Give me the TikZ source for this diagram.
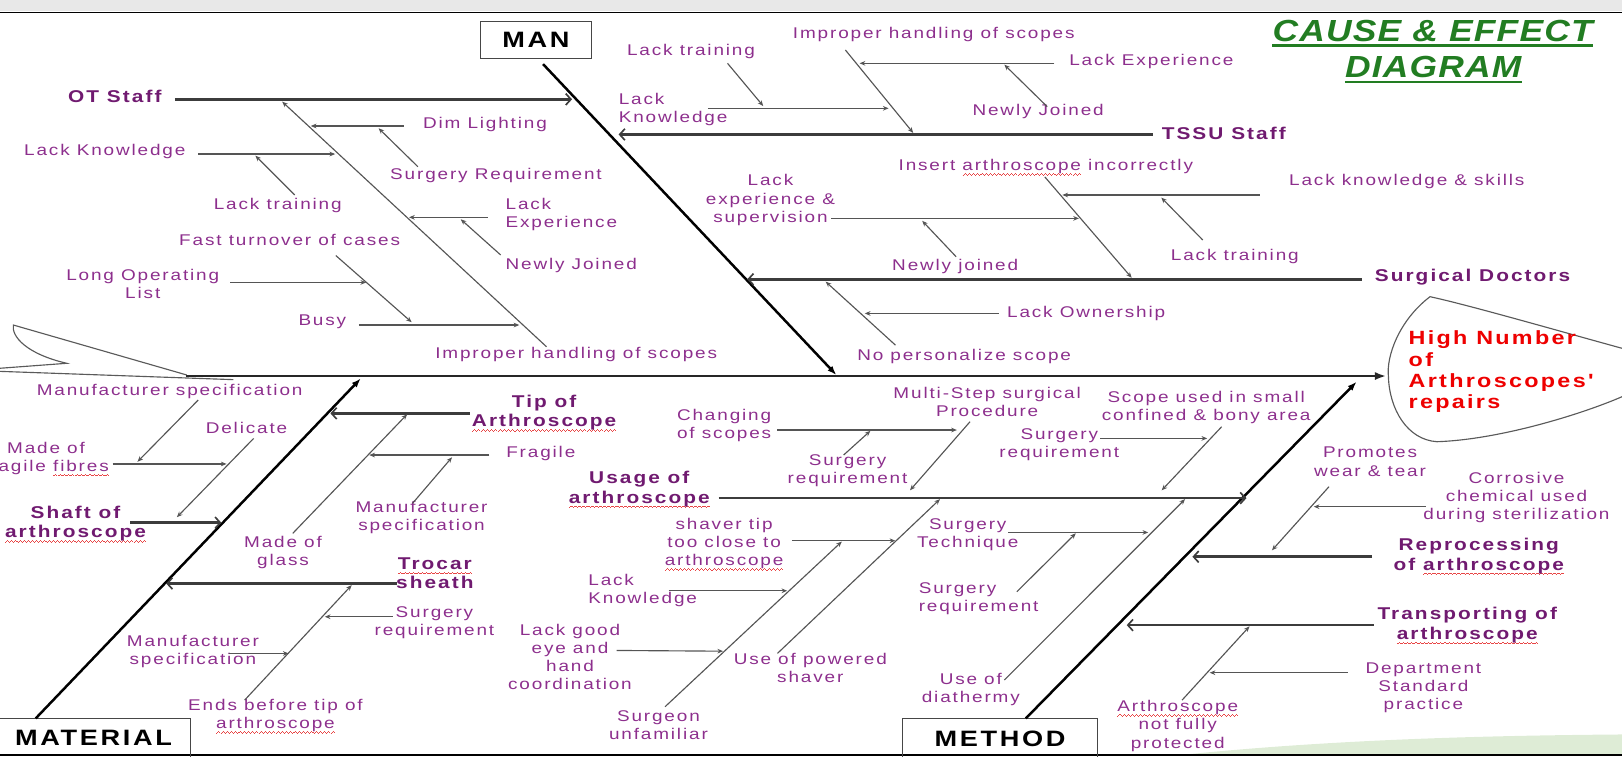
\documentclass[tikz,border=0pt]{standalone}
\usepackage{fontspec}
\usetikzlibrary{arrows.meta}
\setmainfont{Liberation Sans}
\newfontfamily\lblfam[FakeStretch=1.22,LetterSpace=12]{Liberation Sans}
\newfontfamily\ttlfam[FakeStretch=1.16,LetterSpace=4]{Liberation Sans}
\definecolor{lblc}{RGB}{141,47,141}
\definecolor{catc}{RGB}{112,26,112}
\definecolor{linec}{RGB}{85,85,85}
\definecolor{catline}{RGB}{60,60,60}
\definecolor{boxc}{RGB}{70,70,70}
\definecolor{ttlc}{RGB}{34,125,34}
\definecolor{effc}{RGB}{238,0,0}
\definecolor{sqc}{RGB}{232,70,70}
\definecolor{bandc}{RGB}{232,232,232}
\definecolor{swoosh}{RGB}{222,236,214}
\definecolor{tailc}{RGB}{90,90,90}
\newcommand\sqpiece{\rule[-4.6pt]{1pt}{0.7pt}\rule[-3.9pt]{1pt}{0.7pt}\rule[-3.2pt]{1pt}{0.7pt}\rule[-3.9pt]{1pt}{0.7pt}}
\newcommand\sqw[1]{\setbox0\hbox{#1}\rlap{\smash{\textcolor{sqc}{\hbox to \wd0{\xleaders\hbox{\sqpiece}\hfill}}}}\box0\relax}
\tikzset{
  lbl/.style={inner sep=0pt, align=center, text=lblc, font=\lblfam\fontsize{15}{17.5}\selectfont},
  catlbl/.style={inner sep=0pt, align=center, text=catc, font=\lblfam\bfseries\fontsize{16.5}{18.8}\selectfont},
  boxlbl/.style={draw=boxc, line width=1.3pt, inner sep=0pt, text=black, font=\lblfam\bfseries\fontsize{21.5}{24}\selectfont},
  sub/.style={draw=linec, line width=1.1pt, -{Stealth[length=5.5pt,width=4.5pt]}},
  catarrow/.style={draw=catline, line width=2.6pt, -{Straight Barb[length=5pt,width=11pt,line width=1.6pt]}},
  bone/.style={draw=black, line width=2.4pt, -{Latex[length=9pt,width=6.5pt]}},
  spine/.style={draw=black!85, line width=2.2pt, -{Latex[length=11pt,width=8pt]}},
  outline/.style={draw=tailc, line width=1.1pt},
  ttl/.style={inner sep=0pt, text=ttlc, font=\ttlfam\bfseries\itshape\fontsize{29.5}{32}\selectfont},
  ttlline/.style={draw=ttlc, line width=2pt},
}
\begin{document}
\begin{tikzpicture}[x=1pt,y=-1pt]
\useasboundingbox (0,0) rectangle (1568,731);
\clip (0,0) rectangle (1568,731);
% frame of the slide
\fill[bandc] (0,0) rectangle (1568,10.6);
\draw[black, line width=1.6pt] (0,12) -- (1568,12);
\fill[swoosh] (1150,729) .. controls (1300,714) and (1450,711) .. (1568,710) -- (1568,729) -- cycle;
\draw[black, line width=1.6pt] (0,729.6) -- (1568,729.6);

% title
\node[ttl, anchor=base] (t1) at (1385,40) {CAUSE \& EFFECT};
\node[ttl, anchor=base] (t2) at (1385.5,75.2) {DIAGRAM};
\draw[ttlline] ([yshift=-4pt]t1.base west) -- ([yshift=-4pt]t1.base east);
\draw[ttlline] ([yshift=-4.3pt]t2.base west) -- ([yshift=-4.3pt]t2.base east);

% fish tail
\draw[outline] (180.5,362.5) -- (12.9,314.2) .. controls (11,325) and (25,342) .. (64.5,351.2) -- (0,356);
\draw[outline] (0,359) -- (225.6,367);

% head
\draw[outline] (1568,336.7) .. controls (1500,318) and (1420,295) .. (1382.4,286.8)
  .. controls (1352,310) and (1340,345) .. (1342.2,364)
  .. controls (1343,395) and (1360,425) .. (1389,427)
  .. controls (1450,425) and (1530,400) .. (1568,383.5);
\node[anchor=west, align=left, inner sep=0pt, text=effc, font=\lblfam\bfseries\fontsize{18.5}{20.5}\selectfont] (effect) at (1361.6,359.4) {High Number\\of\\Arthroscopes'\\repairs};

% spine
\coordinate (spS) at (180,363.5);
\coordinate (spE) at (1340,363.5);
\draw[spine] (spS) -- (spE);

% category boxes
\node[boxlbl, minimum width=107.6pt, minimum height=35.4pt] (man) at (518.2,38.7) {MAN};
\node[boxlbl, minimum width=187pt, minimum height=38pt] (material) at (90.5,713.5) {MATERIAL};
\node[boxlbl, minimum width=188pt, minimum height=38.6pt] (method) at (966.7,713.8) {METHOD};

% main bones
\coordinate (manS) at (525,62);
\coordinate (manE) at (808.6,362.6);
\coordinate (matS) at (34.5,694.5);
\coordinate (matE) at (348.8,365.8);
\coordinate (metS) at (991.6,694.5);
\coordinate (metE) at (1311.5,369);
\draw[bone] (manS) -- (manE);
\draw[bone] (matS) -- (matE);
\draw[bone] (metS) -- (metE);

% ===== MAN : OT Staff =====
\node[catlbl] (ot) at (111,93.5) {OT Staff};
\node[lbl] (dim) at (468.8,120) {Dim Lighting};
\node[lbl] (sreqA) at (479.5,169.2) {Surgery Requirement};
\node[lbl] (lkA) at (101.3,146.6) {Lack Knowledge};
\node[lbl] (ltA) at (268.5,199) {Lack training};
\node[lbl, anchor=west, align=left] (leA) at (488.6,207) {Lack\\Experience};
\node[lbl, anchor=west] (njA) at (488.6,256.5) {Newly Joined};
\node[lbl] (ftc) at (280,232) {Fast turnover of cases};
\node[lbl] (lol) at (138,274.5) {Long Operating\\List};
\node[lbl] (busy) at (311.6,311) {Busy};
\node[lbl] (ihA) at (557,342.3) {Improper handling of scopes};

\coordinate (otS) at (169,96);       \coordinate (otE) at (553,96);
\coordinate (ihAs) at (528.3,335.2); \coordinate (ihAe) at (272.8,98.3);
\coordinate (dimS) at (390.2,121.8); \coordinate (dimE) at (300.4,121.8);
\coordinate (sqAs) at (404,161.2);   \coordinate (sqAe) at (366,124);
\coordinate (lkAs) at (191.6,148.9); \coordinate (lkAe) at (324,148.9);
\coordinate (ltAs) at (284.9,188.5); \coordinate (ltAe) at (246.9,150.5);
\coordinate (leAs) at (471.3,210.1); \coordinate (leAe) at (395.4,210.1);
\coordinate (njAs) at (484,246.5);   \coordinate (njAe) at (445.4,212);
\coordinate (ftcS) at (324.6,247);   \coordinate (ftcE) at (398,311.5);
\coordinate (lolS) at (222.7,273);   \coordinate (lolE) at (354,273);
\coordinate (busS) at (347,314.2);   \coordinate (busE) at (502,314.2);
\draw[catarrow] (otS) -- (otE);
\draw[sub] (ihAs) -- (ihAe);
\draw[sub] (dimS) -- (dimE);
\draw[sub] (sqAs) -- (sqAe);
\draw[sub] (lkAs) -- (lkAe);
\draw[sub] (ltAs) -- (ltAe);
\draw[sub] (leAs) -- (leAe);
\draw[sub] (njAs) -- (njAe);
\draw[sub] (ftcS) -- (ftcE);
\draw[sub] (lolS) -- (lolE);
\draw[sub] (busS) -- (busE);

% ===== MAN : TSSU Staff =====
\node[catlbl] (tssu) at (1183,129) {TSSU Staff};
\node[lbl] (ihB) at (902.7,33.8) {Improper handling of scopes};
\node[lbl] (leB) at (1113,59) {Lack Experience};
\node[lbl] (njB) at (1003.6,108) {Newly Joined};
\node[lbl] (ltB) at (668,50) {Lack training};
\node[lbl, anchor=west, align=left] (lkB) at (598,105.5) {Lack\\Knowledge};

\coordinate (tsS) at (1114.3,130);   \coordinate (tsE) at (598,130);
\coordinate (ihBs) at (817.2,48.3);  \coordinate (ihBe) at (882.8,128.5);
\coordinate (leBs) at (1019.2,61.2); \coordinate (leBe) at (831,61.2);
\coordinate (njBs) at (1012.3,103.1);\coordinate (njBe) at (970.9,62.5);
\coordinate (ltBs) at (703.3,61.2);  \coordinate (ltBe) at (737.8,102.5);
\coordinate (lkBs) at (684.3,104.7); \coordinate (lkBe) at (859,104.7);
\draw[catarrow] (tsS) -- (tsE);
\draw[sub] (ihBs) -- (ihBe);
\draw[sub] (leBs) -- (leBe);
\draw[sub] (njBs) -- (njBe);
\draw[sub] (ltBs) -- (ltBe);
\draw[sub] (lkBs) -- (lkBe);

% ===== MAN : Surgical Doctors =====
\node[catlbl] (sd) at (1423.5,267.5) {Surgical Doctors};
\node[lbl] (ins) at (1011,161.2) {Insert \sqw{arthroscope} incorrectly};
\node[lbl] (lks) at (1360,175.7) {Lack knowledge \& skills};
\node[lbl] (ltC) at (1193.7,248) {Lack training};
\node[lbl] (les) at (744.8,193.4) {Lack\\experience \&\\supervision};
\node[lbl] (njC) at (923.4,257.2) {Newly joined};
\node[lbl] (lo) at (1050,303) {Lack Ownership};
\node[lbl] (nps) at (932,344.2) {No personalize scope};

\coordinate (sdS) at (1316.5,270);   \coordinate (sdE) at (722.3,270);
\coordinate (insS) at (1010,171);    \coordinate (insE) at (1094,268.5);
\coordinate (lksS) at (1218,188.5);  \coordinate (lksE) at (1027,188.5);
\coordinate (ltCs) at (1162.7,232);  \coordinate (ltCe) at (1122.6,191);
\coordinate (lesS) at (803.4,211.1); \coordinate (lesE) at (1043,211.1);
\coordinate (njCs) at (924.3,248.2); \coordinate (njCe) at (891.5,213.5);
\coordinate (npsS) at (865.6,333.6); \coordinate (npsE) at (798.2,272.3);
\coordinate (loS) at (965.7,303);    \coordinate (loE) at (836,303);
\draw[catarrow] (sdS) -- (sdE);
\draw[sub] (insS) -- (insE);
\draw[sub] (lksS) -- (lksE);
\draw[sub] (ltCs) -- (ltCe);
\draw[sub] (lesS) -- (lesE);
\draw[sub] (njCs) -- (njCe);
\draw[sub] (npsS) -- (npsE);
\draw[sub] (loS) -- (loE);

% ===== MATERIAL =====
\node[catlbl] (tip) at (526,399) {Tip of\\\sqw{Arthroscope}};
\node[lbl] (fragile) at (522.8,438.3) {Fragile};
\node[lbl] (msA) at (407.5,500.3) {Manufacturer\\specification};
\node[lbl] (mog) at (273.6,534.2) {Made of\\glass};
\node[catlbl] (shaft) at (73,506) {Shaft of\\\sqw{arthroscope}};
\node[lbl] (msB) at (164,378.7) {Manufacturer specification};
\node[lbl] (delicate) at (238.3,413.5) {Delicate};
\node[lbl] (mff) at (44.5,443.1) {Made of\\fragile \sqw{fibres}};
\node[catlbl] (trocar) at (420.4,554.3) {\sqw{Trocar}\\sheath};
\node[lbl] (sreqB) at (420,602.3) {Surgery\\requirement};
\node[lbl] (msC) at (186.5,630.2) {Manufacturer\\specification};
\node[lbl] (ebt) at (266.3,691.6) {Ends before tip of\\\sqw{arthroscope}};

\coordinate (tipS) at (454,399.6);   \coordinate (tipE) at (319.4,399.6);
\coordinate (tdS) at (283,515.6);    \coordinate (tdE) at (393.6,400.5);
\coordinate (frS) at (473,439.9);    \coordinate (frE) at (357,439.9);
\coordinate (msAs) at (398.8,486.6); \coordinate (msAe) at (437,442);
\coordinate (shS) at (126,505.3);    \coordinate (shE) at (214,505.3);
\coordinate (msBs) at (191.6,386.7); \coordinate (msBe) at (132.9,446.4);
\coordinate (delS) at (245.2,423.8); \coordinate (delE) at (171,500);
\coordinate (mffS) at (108.8,448.5); \coordinate (mffE) at (219,448.5);
\coordinate (trS) at (383.3,564);    \coordinate (trE) at (160.6,564);
\coordinate (trdS) at (236.5,676.8); \coordinate (trdE) at (340,565.6);
\coordinate (sqBs) at (379.8,596.2); \coordinate (sqBe) at (314,596.2);
\coordinate (msCs) at (221,631.7);   \coordinate (msCe) at (279,631.7);
\draw[catarrow] (tipS) -- (tipE);
\draw[sub] (tdS) -- (tdE);
\draw[sub] (frS) -- (frE);
\draw[sub] (msAs) -- (msAe);
\draw[catarrow] (shS) -- (shE);
\draw[sub] (msBs) -- (msBe);
\draw[sub] (delS) -- (delE);
\draw[sub] (mffS) -- (mffE);
\draw[catarrow] (trS) -- (trE);
\draw[sub] (trdS) -- (trdE);
\draw[sub] (sqBs) -- (sqBe);
\draw[sub] (msCs) -- (msCe);

% ===== METHOD =====
\node[catlbl] (usage) at (618,472.6) {Usage of\\\sqw{arthroscope}};
\node[lbl] (msp) at (954.3,388.5) {Multi-Step surgical\\Procedure};
\node[lbl] (cos) at (700,411) {Changing\\of scopes};
\node[lbl] (sreqC) at (819.3,455.2) {Surgery\\requirement};
\node[lbl] (scope) at (1166,394) {Scope used in small\\confined \& bony area};
\node[lbl] (sreqD) at (1024,430.2) {Surgery\\requirement};
\node[lbl] (shaver) at (700,525.6) {shaver tip\\too close to\\\sqw{arthroscope}};
\node[lbl, anchor=west, align=left] (lkC) at (568.6,571.2) {Lack\\Knowledge};
\node[lbl] (lge) at (551,634.8) {Lack good\\eye and\\hand\\coordination};
\node[lbl] (upw) at (783.3,645.3) {Use of powered\\shaver};
\node[lbl] (su) at (636.5,701) {Surgeon\\unfamiliar};
\node[lbl] (st) at (935.5,516.5) {Surgery\\Technique};
\node[lbl, anchor=west, align=left] (sreqE) at (888,578.8) {Surgery\\requirement};
\node[lbl] (uod) at (938.5,666.3) {Use of\\diathermy};
\node[catlbl] (rep) at (1429.5,537.4) {Reprocessing\\of \sqw{arthroscope}};
\node[lbl] (pwt) at (1324.4,446.4) {Promotes\\wear \& tear};
\node[lbl] (corr) at (1466,481) {Corrosive\\chemical used\\during sterilization};
\node[catlbl] (trans) at (1418.4,604.3) {Transporting of\\\sqw{arthroscope}};
\node[lbl] (dsp) at (1376,664.6) {Department\\Standard\\practice};
\node[lbl] (anfp) at (1138.5,701.8) {\sqw{Arthroscope}\\not fully\\protected};

\coordinate (usS) at (694.7,481.5);  \coordinate (usE) at (1205,481.5);
\coordinate (mspS) at (937.7,407.7); \coordinate (mspE) at (879.7,474);
\coordinate (cosS) at (751.6,415.7); \coordinate (cosE) at (925,415.7);
\coordinate (sqCs) at (815.5,439.9); \coordinate (sqCe) at (841.4,416.5);
\coordinate (scS) at (1181,412.5);   \coordinate (scE) at (1123,474);
\coordinate (sqDs) at (1063.4,423.8);\coordinate (sqDe) at (1167,423.8);
\coordinate (daS) at (642.9,683.2);  \coordinate (daE) at (813.8,523.5);
\coordinate (dbS) at (751.6,631.6);  \coordinate (dbE) at (908.7,482.5);
\coordinate (shvS) at (765.4,522.7); \coordinate (shvE) at (865.5,522.7);
\coordinate (lkCs) at (646.3,571.1); \coordinate (lkCe) at (761,571.1);
\coordinate (lgeS) at (596.2,628.8); \coordinate (lgeE) at (699,629.5);
\coordinate (dcS) at (970.9,657.4);  \coordinate (dcE) at (1145.6,482.5);
\coordinate (stS) at (974.8,514.7);  \coordinate (stE) at (1110,514.7);
\coordinate (ddS) at (983,572);      \coordinate (ddE) at (1040,515.5);
\coordinate (repS) at (1326.5,538.2);\coordinate (repE) at (1152.7,538.2);
\coordinate (pwS) at (1284.7,470.5); \coordinate (pwE) at (1229.6,532);
\coordinate (coS) at (1378.3,489.8); \coordinate (coE) at (1270,489.8);
\coordinate (trnS) at (1328.2,604.3);\coordinate (trnE) at (1089.2,604.3);
\coordinate (anS) at (1142.7,676.8); \coordinate (anE) at (1207.9,605.5);
\coordinate (dsS) at (1303.1,650.3); \coordinate (dsE) at (1169.4,650.3);
\draw[catarrow] (usS) -- (usE);
\draw[sub] (mspS) -- (mspE);
\draw[sub] (cosS) -- (cosE);
\draw[sub] (sqCs) -- (sqCe);
\draw[sub] (scS) -- (scE);
\draw[sub] (sqDs) -- (sqDe);
\draw[sub] (daS) -- (daE);
\draw[sub] (dbS) -- (dbE);
\draw[sub] (shvS) -- (shvE);
\draw[sub] (lkCs) -- (lkCe);
\draw[sub] (lgeS) -- (lgeE);
\draw[sub] (dcS) -- (dcE);
\draw[sub] (stS) -- (stE);
\draw[sub] (ddS) -- (ddE);
\draw[catarrow] (repS) -- (repE);
\draw[sub] (pwS) -- (pwE);
\draw[sub] (coS) -- (coE);
\draw[catarrow] (trnS) -- (trnE);
\draw[sub] (anS) -- (anE);
\draw[sub] (dsS) -- (dsE);
\end{tikzpicture}
\end{document}
